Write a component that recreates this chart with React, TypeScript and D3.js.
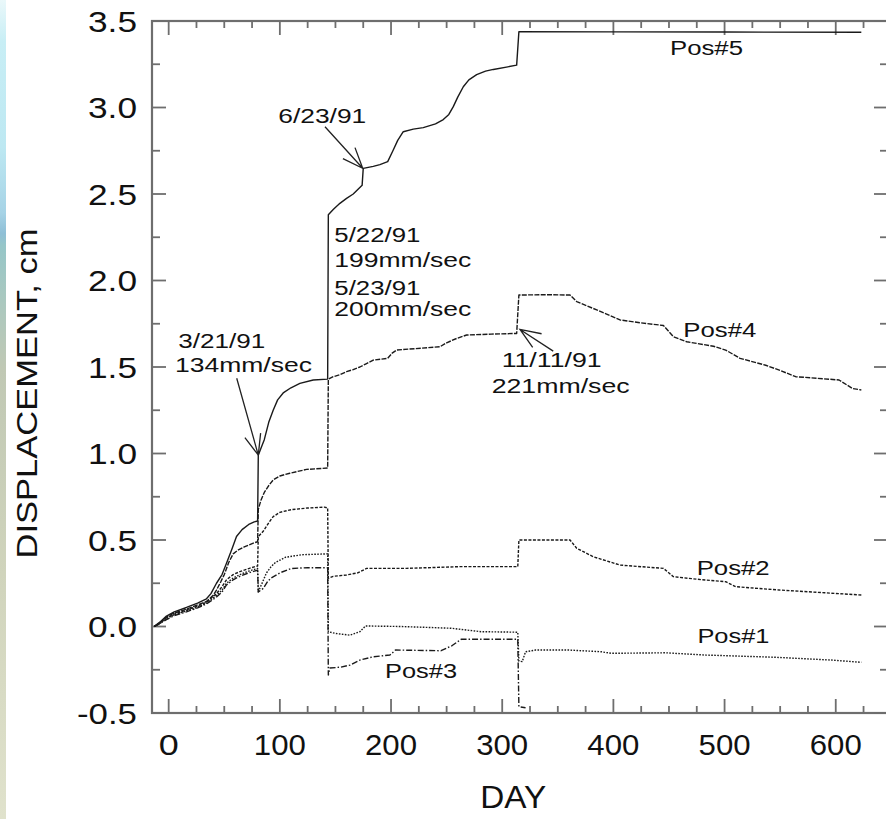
import React from 'react';
import * as d3 from 'd3';

const W = 886;
const H = 819;

// ---- data ----
const xTickValues = [0, 100, 200, 300, 400, 500, 600];
const xTickLabels = ['0', '100', '200', '300', '400', '500', '600'];
const yTickValues = [-0.5, 0, 0.5, 1.0, 1.5, 2.0, 2.5, 3.0, 3.5];
const yTickLabels = ['-0.5', '0.0', '0.5', '1.0', '1.5', '2.0', '2.5', '3.0', '3.5'];

const pos5: [number, number][] = [
  [-13, 0], [-8, 0.025], [-2, 0.06], [5, 0.085], [16, 0.11], [26, 0.135], [34, 0.16], [38, 0.19],
  [43, 0.25], [48, 0.3], [52, 0.365], [57, 0.45], [61, 0.52], [66, 0.56], [72, 0.59], [77, 0.605],
  [80, 0.61], [80.6, 0.99], [83, 1.03], [86, 1.08], [90, 1.18], [94, 1.25], [98, 1.31], [103, 1.35],
  [110, 1.38], [118, 1.405], [130, 1.425], [143, 1.43], [143.6, 2.38], [148, 2.41], [154, 2.446],
  [160, 2.475], [166, 2.5], [174, 2.55], [175, 2.648], [184, 2.66], [190, 2.67], [197, 2.687],
  [202, 2.754], [206, 2.81], [211, 2.86], [220, 2.875], [229, 2.884], [240, 2.905], [247, 2.93],
  [252, 2.96], [256, 3.005], [260, 3.06], [265, 3.12], [270, 3.16], [277, 3.19], [285, 3.21],
  [292, 3.22], [305, 3.235], [313, 3.245], [315, 3.438], [400, 3.437], [500, 3.436], [623, 3.435],
];

const pos4: [number, number][] = [
  [-13, 0], [-8, 0.022], [-2, 0.055], [5, 0.078], [16, 0.1], [26, 0.125], [34, 0.145], [40, 0.18],
  [43, 0.21], [47, 0.26], [50, 0.3], [54, 0.37], [58, 0.42], [62, 0.44], [68, 0.46], [77, 0.484],
  [80, 0.49], [80.6, 0.677], [83, 0.73], [86, 0.775], [90, 0.815], [94, 0.847], [100, 0.87],
  [109, 0.886], [124, 0.908], [143, 0.916], [143.6, 1.43], [148, 1.444], [154, 1.455], [160, 1.473],
  [166, 1.485], [172, 1.5], [178, 1.52], [184, 1.54], [197, 1.55], [201, 1.58], [205, 1.598],
  [244, 1.617], [250, 1.64], [259, 1.665], [268, 1.685], [290, 1.69], [313, 1.694], [315, 1.916],
  [340, 1.918], [361, 1.916], [367, 1.878], [385, 1.83], [406, 1.772], [425, 1.755], [445, 1.74],
  [454, 1.675], [466, 1.646], [490, 1.62], [501, 1.598], [514, 1.55], [537, 1.51], [550, 1.48],
  [564, 1.444], [603, 1.425], [615, 1.376], [623, 1.367],
];

const pos2: [number, number][] = [
  [-13, 0], [-8, 0.02], [-2, 0.05], [5, 0.072], [16, 0.095], [26, 0.118], [34, 0.14], [43, 0.19],
  [48, 0.23], [52, 0.27], [58, 0.3], [64, 0.317], [72, 0.335], [77, 0.345], [80, 0.35], [80.6, 0.52],
  [85, 0.55], [90, 0.6], [94, 0.635], [100, 0.66], [110, 0.675], [125, 0.685], [140, 0.69],
  [143, 0.685], [143.6, 0.279], [148, 0.29], [160, 0.298], [170, 0.31], [178, 0.336], [214, 0.336],
  [262, 0.346], [314, 0.346], [315, 0.5], [361, 0.5], [367, 0.452], [382, 0.403], [406, 0.355],
  [445, 0.336], [454, 0.288], [480, 0.27], [501, 0.259], [510, 0.23], [549, 0.211], [590, 0.195],
  [623, 0.182],
];

const pos1: [number, number][] = [
  [-13, 0], [-8, 0.018], [-2, 0.045], [5, 0.068], [16, 0.09], [26, 0.112], [34, 0.135], [43, 0.18],
  [48, 0.21], [52, 0.25], [58, 0.28], [64, 0.3], [72, 0.32], [77, 0.33], [80, 0.335], [80.6, 0.2],
  [84, 0.25], [88, 0.31], [92, 0.345], [96, 0.37], [105, 0.4], [120, 0.415], [143, 0.42],
  [143.6, -0.03], [150, -0.04], [163, -0.05], [172, -0.03], [177, 0.003], [209, 0], [254, -0.01],
  [281, -0.03], [314, -0.033], [315, -0.2], [318, -0.203], [321, -0.146], [330, -0.136],
  [360, -0.136], [389, -0.146], [398, -0.155], [447, -0.152], [483, -0.165], [546, -0.178],
  [596, -0.194], [623, -0.207],
];

const pos3: [number, number][] = [
  [-13, 0], [-8, 0.016], [-2, 0.04], [5, 0.063], [16, 0.085], [26, 0.108], [34, 0.13], [43, 0.17],
  [48, 0.2], [52, 0.24], [58, 0.27], [64, 0.29], [72, 0.31], [77, 0.32], [80, 0.325], [80.6, 0.2],
  [85, 0.22], [89, 0.26], [92, 0.28], [100, 0.31], [110, 0.335], [125, 0.34], [143, 0.34],
  [143.6, -0.28], [145, -0.24], [155, -0.235], [163, -0.223], [172, -0.194], [184, -0.175],
  [199, -0.165], [204, -0.136], [245, -0.14], [255, -0.11], [263, -0.074], [314, -0.074],
  [315, -0.464], [321, -0.47],
];

const seriesNames = ['Pos#1', 'Pos#2', 'Pos#3', 'Pos#4', 'Pos#5'];
const seriesData = [pos1, pos2, pos3, pos4, pos5];

// annotations: text with baseline position in data coords
const annotationTexts = ['6/23/91', '5/22/91', '199mm/sec', '5/23/91', '200mm/sec', '3/21/91', '134mm/sec', '11/11/91', '221mm/sec', 'Pos#5', 'Pos#4', 'Pos#2', 'Pos#1', 'Pos#3'];
const annotationDays = [98.6, 149, 149, 149, 149, 8.6, 5.7, 299.5, 290.5, 450.9, 462.9, 474.9, 475.6, 194.6];
const annotationVals = [2.91, 2.223, 2.078, 1.918, 1.797, 1.608, 1.473, 1.502, 1.348, 3.303, 1.675, 0.298, -0.097, -0.299];

// arrows: [fromDay, fromVal, tipDay, tipVal]
const arrows: [number, number, number, number][] = [
  [61.2, 1.435, 80.6, 0.991],
  [140.6, 2.889, 174.5, 2.649],
  [345.9, 1.592, 316, 1.717],
];

// ---- styles ----
const FONT = "'Liberation Sans', Arial, Helvetica, sans-serif";
const dashes: Record<string, string> = {
  'Pos#1': '1.6 1.4',
  'Pos#2': '3 1.5',
  'Pos#3': '6 2 1.5 2',
  'Pos#4': '5 1.3',
  'Pos#5': '',
};
const annotWidth: Record<string, number> = {
  '6/23/91': 88, '5/22/91': 86, '199mm/sec': 137, '5/23/91': 86, '200mm/sec': 137,
  '3/21/91': 87, '134mm/sec': 137, '11/11/91': 100, '221mm/sec': 138,
  'Pos#5': 73, 'Pos#4': 73, 'Pos#2': 73, 'Pos#1': 72, 'Pos#3': 72,
};

export default function App() {
  const left = 152, right = 888, top = 21, bottom = 713;
  const x = d3.scaleLinear().domain([-15, 647]).range([left, right]);
  const y = d3.scaleLinear().domain([-0.5, 3.5]).range([bottom, top]);
  const line = d3.line<[number, number]>().x(d => x(d[0])).y(d => y(d[1]));

  const xMinor = d3.range(25, 626, 25).filter(v => v % 100 !== 0);
  const yMinor = d3.range(-0.25, 3.5, 0.5);

  const arrowPath = (a: [number, number, number, number]) => {
    const x0 = x(a[0]), y0 = y(a[1]), x1 = x(a[2]), y1 = y(a[3]);
    const ang = Math.atan2(y1 - y0, x1 - x0);
    const len = 22, spread = 0.38;
    const w1x = x1 - len * Math.cos(ang - spread), w1y = y1 - len * Math.sin(ang - spread);
    const w2x = x1 - len * Math.cos(ang + spread), w2y = y1 - len * Math.sin(ang + spread);
    return `M${x0},${y0}L${x1},${y1}M${w1x},${w1y}L${x1},${y1}L${w2x},${w2y}`;
  };

  const axisColor = '#6e6e6e';
  const labelWidth = (s: string) => (s.length >= 4 ? 60 : s.length === 3 ? 49 : s.length === 1 ? 17 : 34);

  return (
    <svg width={W} height={H} style={{ display: 'block', position: 'absolute', left: 0, top: 0 }}>
      <defs>
        <linearGradient id="strip" x1="0" y1="0" x2="0" y2="1">
          <stop offset="0" stopColor="#eaf8fa" />
          <stop offset="0.05" stopColor="#c8eef5" />
          <stop offset="0.18" stopColor="#bde8f2" />
          <stop offset="0.26" stopColor="#a6d3e6" />
          <stop offset="0.285" stopColor="#8fbfd6" />
          <stop offset="0.3" stopColor="#96c6c8" />
          <stop offset="0.36" stopColor="#a8c8c0" />
          <stop offset="0.45" stopColor="#c0c8b4" />
          <stop offset="0.7" stopColor="#d0d4bc" />
          <stop offset="1" stopColor="#e0e2cc" />
        </linearGradient>
      </defs>
      <rect x={0} y={0} width={W} height={H} fill="#ffffff" />
      <rect x={0} y={0} width={6} height={H} fill="url(#strip)" />

      {/* frame */}
      <rect x={left} y={top} width={right - left} height={bottom - top} fill="none" stroke={axisColor} strokeWidth={2.2} />

      {/* x ticks */}
      {xTickValues.map(v => (
        <g key={'xt' + v}>
          <line x1={x(v)} x2={x(v)} y1={bottom} y2={bottom - 14} stroke={axisColor} strokeWidth={1.8} />
          <line x1={x(v)} x2={x(v)} y1={top} y2={top + 14} stroke={axisColor} strokeWidth={1.8} />
        </g>
      ))}
      {xMinor.map(v => (
        <g key={'xm' + v}>
          <line x1={x(v)} x2={x(v)} y1={bottom} y2={bottom - 7} stroke={axisColor} strokeWidth={1.8} />
          <line x1={x(v)} x2={x(v)} y1={top} y2={top + 7} stroke={axisColor} strokeWidth={1.8} />
        </g>
      ))}
      {/* y ticks */}
      {yTickValues.map(v => (
        <g key={'yt' + v}>
          <line x1={left} x2={left + 14} y1={y(v)} y2={y(v)} stroke={axisColor} strokeWidth={1.8} />
          <line x1={right} x2={right - 14} y1={y(v)} y2={y(v)} stroke={axisColor} strokeWidth={1.8} />
        </g>
      ))}
      {yMinor.map(v => (
        <g key={'ym' + v}>
          <line x1={left} x2={left + 8} y1={y(v)} y2={y(v)} stroke={axisColor} strokeWidth={1.8} />
          <line x1={right} x2={right - 8} y1={y(v)} y2={y(v)} stroke={axisColor} strokeWidth={1.8} />
        </g>
      ))}

      {/* tick labels */}
      {xTickValues.map((v, i) => (
        <text key={'xl' + v} x={x(v)} y={755} textAnchor="middle" fontFamily={FONT} fontSize={29} fill="#111"
          textLength={labelWidth(xTickLabels[i]) + 3} lengthAdjust="spacingAndGlyphs">
          {xTickLabels[i]}
        </text>
      ))}
      {yTickValues.map((v, i) => (
        <text key={'yl' + v} x={137} y={y(v) + 10.5} textAnchor="end" fontFamily={FONT} fontSize={29} fill="#111"
          textLength={labelWidth(yTickLabels[i])} lengthAdjust="spacingAndGlyphs">
          {yTickLabels[i]}
        </text>
      ))}

      {/* axis titles */}
      <text x={x(310)} y={808} textAnchor="middle" fontFamily={FONT} fontSize={31} fill="#111"
        textLength={66} lengthAdjust="spacingAndGlyphs">DAY</text>
      <text transform={`translate(37,393.5) rotate(-90)`} textAnchor="middle" fontFamily={FONT} fontSize={29}
        fill="#111" textLength={330} lengthAdjust="spacingAndGlyphs">DISPLACEMENT, cm</text>

      {/* series */}
      {seriesData.map((s, i) => (
        <path key={seriesNames[i]} d={line(s) || ''} fill="none" stroke="#1a1a1a" strokeWidth={1.4}
          strokeDasharray={dashes[seriesNames[i]] || undefined} strokeLinejoin="round" />
      ))}

      {/* arrows */}
      {arrows.map((a, i) => (
        <path key={'ar' + i} d={arrowPath(a)} fill="none" stroke="#222" strokeWidth={1.3} />
      ))}

      {/* annotations */}
      {annotationTexts.map((t, i) => (
        <text key={'an' + i} x={x(annotationDays[i])} y={y(annotationVals[i])} fontFamily={FONT} fontSize={20.5}
          fill="#111" textLength={annotWidth[t]} lengthAdjust="spacingAndGlyphs">{t}</text>
      ))}
    </svg>
  );
}
